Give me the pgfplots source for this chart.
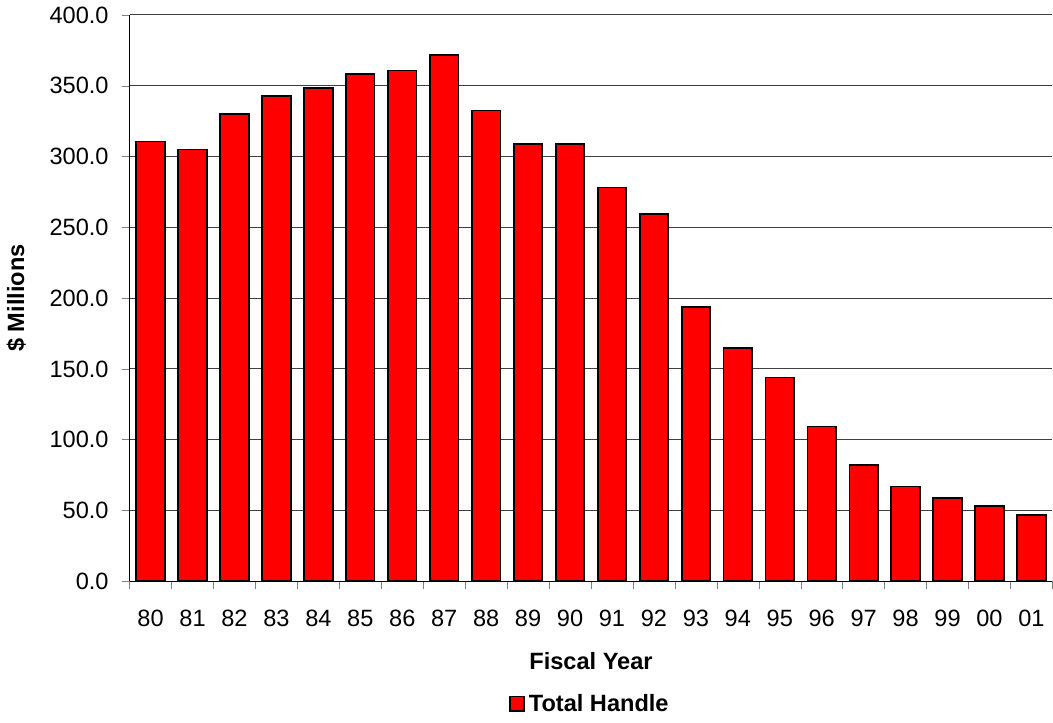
\documentclass[border=0pt]{standalone}
\usepackage{pgfplots}
\pgfplotsset{compat=1.18}
\usepackage{fontspec}
\setmainfont{Liberation Sans}

\pgfplotstableread{
x  val
0  310.6
1  305.0
2  330.2
3  342.9
4  348.5
5  358.2
6  360.8
7  371.8
8  332.5
9  309.0
10 309.0
11 278.2
12 259.6
13 194.0
14 164.9
15 143.9
16 109.3
17 82.1
18 67.0
19 58.6
20 53.1
21 46.8
}\handle

\begin{document}
\begin{tikzpicture}
\begin{axis}[
    scale only axis,
    width=462pt, height=283.5pt,
    ybar, bar width=0.68, bar shift=0pt,
    xmin=-0.5, xmax=21.5,
    ymin=0, ymax=400,
    axis x line*=bottom, axis y line*=left,
    axis line style={line width=0.6pt},
    xtick={0,...,21},
    xticklabels={80,81,82,83,84,85,86,87,88,89,90,91,92,93,94,95,96,97,98,99,00,01},
    minor xtick={-0.5,0.5,...,21.5},
    major x tick style={draw=none},
    minor tick length=4pt,
    tick align=outside,
    major tick length=4pt,
    ytick={0,50,...,400},
    ymajorgrids,
    grid style={black!75, line width=0.5pt},
    yticklabel style={xshift=-3pt, /pgf/number format/fixed, /pgf/number format/fixed zerofill, /pgf/number format/precision=1, /pgf/number format/assume math mode=true},
    xticklabel style={yshift=-7pt},
    tick label style={font=\fontsize{11.8}{13}\selectfont},
    xlabel={\textbf{Fiscal Year}},
    ylabel={\textbf{\$ Millions}},
    label style={font=\fontsize{11.8}{13}\selectfont},
    xlabel style={yshift=-6pt},
    ylabel style={yshift=5pt},
    legend style={at={(0.5,-0.185)}, anchor=north, draw=none, font=\fontsize{11.8}{13}\selectfont\bfseries, legend cell align=left},
    legend image code/.code={\draw[#1, bar width=0pt] (0cm,-0.12cm) rectangle (0.24cm,0.14cm);},
]
\addplot[fill=red, draw=black, line width=0.9pt] table[x=x, y=val] {\handle};
\legend{Total Handle}
\end{axis}
\end{tikzpicture}
\end{document}
